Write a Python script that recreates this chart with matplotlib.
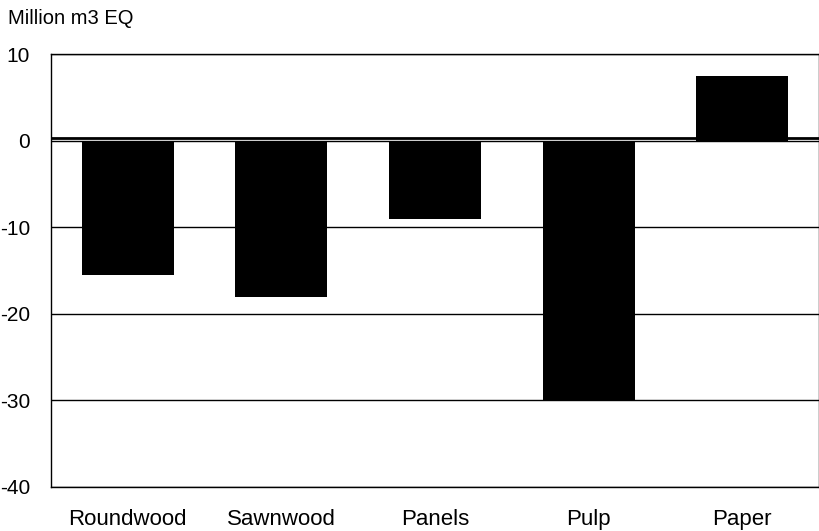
import matplotlib
matplotlib.use("Agg")
import matplotlib.pyplot as plt

# Net trade by product, million m3 EQ
categories = ["Roundwood", "Sawnwood", "Panels", "Pulp", "Paper"]
values = [-15.5, -18.1, -9.0, -30.0, 7.5]
yticks = [10, 0, -10, -20, -30, -40]

plt.rcParams["font.family"] = ["Liberation Sans", "DejaVu Sans"]

fig = plt.figure(figsize=(8.2, 5.31), dpi=100)
ax = fig.add_axes([51 / 820, 1 - 487 / 531, 768 / 820, 433 / 531])

x = list(range(len(categories)))
ax.bar(x, values, width=0.6, color="black", zorder=3)

# gridlines and the category axis line just above zero
for t in yticks:
    ax.axhline(t, color="black", lw=1, zorder=1)
ax.axhline(0.3, color="black", lw=2, zorder=2)

ax.set_xlim(-0.5, len(categories) - 0.5)
ax.set_ylim(-40, 10)
ax.set_yticks(yticks)
ax.set_yticklabels([str(t) for t in yticks], fontsize=15)
ax.set_xticks(x)
ax.set_xticklabels(categories, fontsize=16)
ax.tick_params(length=0, pad=15)
ax.tick_params(axis="x", pad=16)
for s in ax.spines.values():
    s.set_linewidth(1.0)

fig.text(8 / 820, 1 - 18 / 531, "Million m3 EQ", fontsize=14.5, va="center", ha="left")

fig.savefig("out.png", dpi=100)
